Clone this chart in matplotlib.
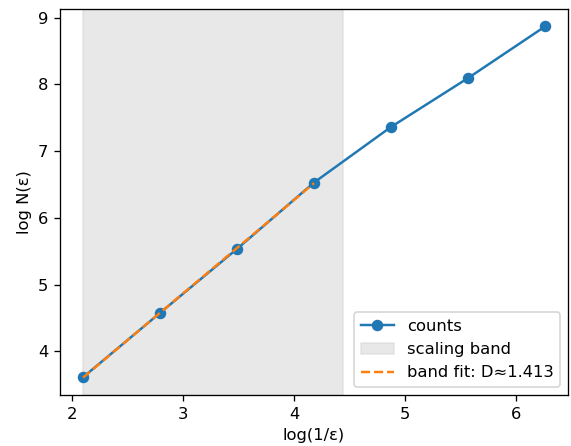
import numpy as np
import matplotlib
matplotlib.use("Agg")
import matplotlib.pyplot as plt

log_inv_eps = [2.10, 2.79, 3.49, 4.18, 4.87, 5.57, 6.26]
log_N = [3.61, 4.57, 5.54, 6.53, 7.36, 8.10, 8.87]
band = (2.10, 4.44)
fit_D = 1.413

x = np.array(log_inv_eps)
y = np.array(log_N)
mask = (x >= band[0]) & (x <= band[1])
slope, intercept = np.polyfit(x[mask], y[mask], 1)

DPI = 118
fig, ax = plt.subplots(figsize=(571 / DPI, 446 / DPI), dpi=DPI)
fig.subplots_adjust(left=0.105, right=0.995, top=0.98, bottom=0.114)
ax.plot(x, y, 'o-', color='#1f77b4', label='counts')
ax.axvspan(band[0], band[1], color='lightgray', alpha=0.5, label='scaling band')
xf = x[mask]
ax.plot(xf, slope * xf + intercept, '--', color='#ff7f0e', label=f'band fit: D≈{fit_D:.3f}')
ax.set_xlabel('log(1/ε)')
ax.set_ylabel('log N(ε)')
ax.legend(loc='lower right')
fig.savefig('out.png', dpi=DPI)
